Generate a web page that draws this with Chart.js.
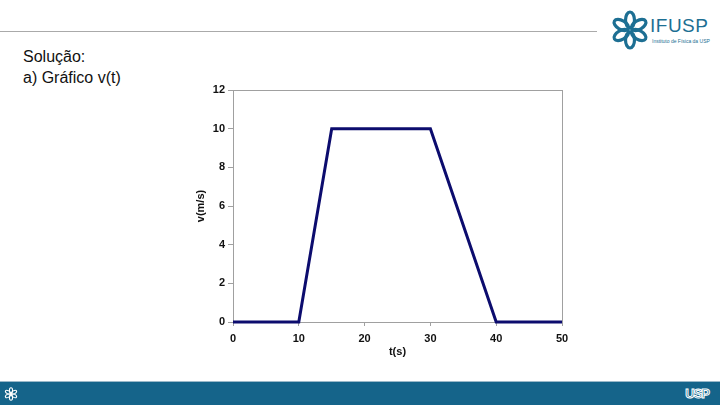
<!DOCTYPE html>
<html>
<head>
<meta charset="utf-8">
<script src="https://cdn.jsdelivr.net/npm/chart.js@4.4.0/dist/chart.umd.min.js"></script>
<style>
  body { margin: 0; width: 720px; height: 405px; background: #fff; position: relative; overflow: hidden; font-family: "Liberation Sans", Arial, sans-serif; }
  #topline { position: absolute; left: 0; top: 31px; width: 597px; height: 1px; background: #aaa; }
  #title { position: absolute; left: 23px; top: 46px; font-size: 16px; line-height: 21px; color: #111; }
  #logo { position: absolute; left: 610px; top: 10px; }
  #logoText { position: absolute; left: 650px; top: 15px; font-size: 19px; color: #1d6f93; letter-spacing: 0.5px; }
  #logoSub { position: absolute; left: 652px; top: 38px; font-size: 5px; color: #1d6f93; }
  #footer { position: absolute; left: 0; top: 381px; width: 720px; height: 24px; background: #15648a; border-top: 1px solid #9bb9c9; }
  #usp { position: absolute; right: 11px; top: 4px; font-size: 13px; font-weight: bold; color: #15648a; -webkit-text-stroke: 1px #fff; letter-spacing: -1px; }
  #chartBox { position: absolute; left: 180px; top: 75px; width: 400px; height: 290px; }
</style>
</head>
<body>
<div id="topline"></div>
<div id="title">Solução:<br>a) Gráfico v(t)</div>
<svg id="logo" width="40" height="40" viewBox="-20 -20 40 40">
  <g fill="none" stroke="#1d6f93" stroke-width="3.2">
    <ellipse cx="0" cy="-10" rx="4.5" ry="8"/>
    <ellipse cx="0" cy="-10" rx="4.5" ry="8" transform="rotate(60)"/>
    <ellipse cx="0" cy="-10" rx="4.5" ry="8" transform="rotate(120)"/>
    <ellipse cx="0" cy="-10" rx="4.5" ry="8" transform="rotate(180)"/>
    <ellipse cx="0" cy="-10" rx="4.5" ry="8" transform="rotate(240)"/>
    <ellipse cx="0" cy="-10" rx="4.5" ry="8" transform="rotate(300)"/>
  </g>
</svg>
<div id="logoText">IFUSP</div>
<div id="logoSub">Instituto de Física da USP</div>
<div id="footer">
  <svg style="position:absolute;left:4px;top:5px" width="14" height="14" viewBox="-20 -20 40 40">
    <g fill="none" stroke="#fff" stroke-width="3">
      <ellipse cx="0" cy="-10" rx="4.5" ry="8"/>
      <ellipse cx="0" cy="-10" rx="4.5" ry="8" transform="rotate(60)"/>
      <ellipse cx="0" cy="-10" rx="4.5" ry="8" transform="rotate(120)"/>
      <ellipse cx="0" cy="-10" rx="4.5" ry="8" transform="rotate(180)"/>
      <ellipse cx="0" cy="-10" rx="4.5" ry="8" transform="rotate(240)"/>
      <ellipse cx="0" cy="-10" rx="4.5" ry="8" transform="rotate(300)"/>
    </g>
  </svg>
  <div id="usp">USP</div>
</div>
<div id="chartBox"><canvas id="c"></canvas></div>
<script>
// data
const tValues = [0, 10, 15, 30, 40, 50];
const vValues = [0, 0, 10, 10, 0, 0];
const xTicks = [0, 10, 20, 30, 40, 50];
const yTicks = [0, 2, 4, 6, 8, 10, 12];

const points = tValues.map((t, i) => ({ x: t, y: vValues[i] }));

// gray frame around the plot area (top/right sides)
const frame = {
    id: 'frame',
    beforeDatasetsDraw(chart) {
        const a = chart.chartArea;
        const ctx = chart.ctx;
        ctx.save();
        ctx.strokeStyle = '#a0a0a0';
        ctx.lineWidth = 1;
        ctx.strokeRect(Math.round(a.left) + 0.5, Math.round(a.top) + 0.5, Math.round(a.right - a.left), Math.round(a.bottom - a.top));
        ctx.restore();
    }
};

const tickFont = { family: '"Liberation Sans", Arial, sans-serif', size: 11, weight: 'bold' };

new Chart(document.getElementById('c'), {
    type: 'scatter',
    data: {
        datasets: [{
            data: points,
            showLine: true,
            borderColor: '#0c0c6e',
            borderWidth: 3,
            pointRadius: 0,
            clip: false
        }]
    },
    options: {
        responsive: true,
        maintainAspectRatio: false,
        animation: false,
        layout: { padding: { top: 15, right: 18, left: 0, bottom: 0 } },
        plugins: { legend: { display: false }, tooltip: { enabled: false } },
        scales: {
            x: {
                type: 'linear',
                min: 0,
                max: 50,
                afterBuildTicks: s => { s.ticks = xTicks.map(v => ({ value: v })); },
                afterFit: s => { s.height = 43; },
                grid: { drawOnChartArea: false, tickLength: 4, tickColor: '#a0a0a0' },
                border: { color: '#a0a0a0' },
                ticks: { color: '#111', font: tickFont, padding: 6, maxRotation: 0 },
                title: { display: true, text: 't(s)', color: '#111', font: tickFont, padding: { top: 0, bottom: 6 } }
            },
            y: {
                min: 0,
                max: 12,
                afterBuildTicks: s => { s.ticks = yTicks.map(v => ({ value: v })); },
                afterFit: s => { s.width = 53; },
                grid: { drawOnChartArea: false, tickLength: 5, tickColor: '#a0a0a0' },
                border: { color: '#a0a0a0' },
                ticks: { color: '#111', font: tickFont, padding: 3 },
                title: { display: true, text: 'v(m/s)', color: '#111', font: tickFont, padding: { top: 14, bottom: 0 } }
            }
        }
    },
    plugins: [frame]
});
</script>
</body>
</html>
